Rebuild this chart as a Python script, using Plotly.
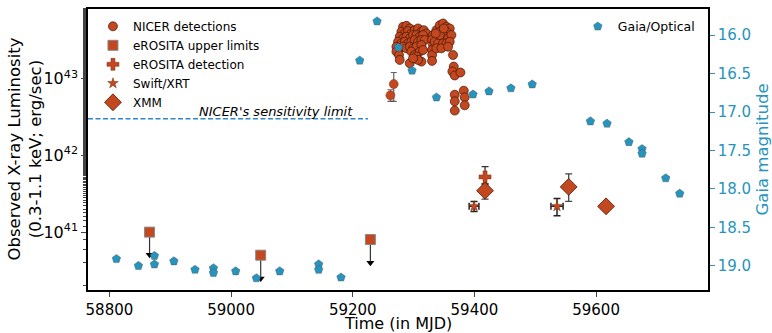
import numpy as np
import plotly.graph_objects as go

# ---------------- data ----------------
# NICER detections: MJD and log10(L [erg/s])
nicer_mjd = [59282.7, 59288.2, 59293.7, 59280.0, 59285.5, 59291.0, 59296.4, 59301.9, 59307.4,
             59312.9, 59316.7, 59321.1, 59277.2, 59282.7, 59288.2, 59293.7, 59299.2, 59304.6,
             59310.1, 59315.6, 59274.5, 59280.0, 59285.5, 59291.0, 59296.4, 59301.9, 59307.4,
             59312.9, 59318.3, 59271.8, 59277.2, 59282.7, 59288.2, 59293.7, 59299.2, 59304.6,
             59312.9, 59271.8, 59276.1, 59296.4, 59301.9, 59310.1, 59315.6, 59277.2, 59293.7,
             59304.6, 59312.9, 59307.4, 59299.2,
             59332.0, 59330.4, 59332.0, 59330.4, 59330.4, 59330.4,
             59337.5, 59343.0, 59348.5, 59354.0, 59359.4, 59343.0, 59348.5, 59354.0, 59340.3,
             59345.7, 59351.2, 59356.7, 59362.2, 59334.8, 59340.3, 59348.5, 59354.0, 59359.4,
             59337.5, 59345.7, 59356.7, 59343.0, 59349.6, 59336.4,
             59364.9, 59366.0, 59363.8, 59367.7, 59377.0,
             59367.7, 59367.7, 59367.7, 59382.5, 59384.1, 59384.1]
nicer_logL = [43.678, 43.690, 43.656, 43.613, 43.591, 43.621, 43.591, 43.634, 43.656,
              43.613, 43.634, 43.591, 43.548, 43.526, 43.548, 43.526, 43.570, 43.570,
              43.548, 43.570, 43.483, 43.462, 43.483, 43.462, 43.483, 43.505, 43.483,
              43.505, 43.505, 43.418, 43.397, 43.418, 43.397, 43.418, 43.397, 43.418,
              43.440, 43.354, 43.310, 43.354, 43.310, 43.354, 43.375, 43.246, 43.203,
              43.289, 43.224, 43.246, 43.267,
              43.570, 43.505, 43.440, 43.375, 43.310, 43.233,
              43.634, 43.699, 43.721, 43.678, 43.656, 43.613, 43.591, 43.613, 43.548,
              43.526, 43.548, 43.526, 43.570, 43.483, 43.462, 43.462, 43.462, 43.483,
              43.397, 43.397, 43.418, 43.570, 43.656, 43.591,
              43.310, 43.159, 43.095, 43.043, 43.082,
              42.792, 42.706, 42.585, 42.844, 42.758, 42.654]
nicer_err_dex = 0.03
# early NICER points with larger error bars
nicer_early_mjd = [59267.4, 59261.9]
nicer_early_logL = [42.931, 42.784]
nicer_early_hi = [43.082, 42.857]
nicer_early_lo = [42.706, 42.706]

# eROSITA upper limits
ero_ul_mjd = [58866.0, 59048.7, 59229.0]
ero_ul_L = [1.0e41, 5.0e40, 8.0e40]
ero_ul_tip = [4.7e40, 2.3e40, 3.7e40]

# eROSITA detection
ero_det_mjd = [59417.5]
ero_det_L = [5.25e41]
ero_det_hi = [7.16e41]
ero_det_lo = [4.24e41]

# Swift/XRT
swift_mjd = [59399.4, 59535.8]
swift_L = [2.17e41, 2.17e41]
swift_hi = [2.51e41, 2.75e41]
swift_lo = [1.86e41, 1.64e41]
swift_xerr = [8.0, 10.0]

# XMM
xmm_mjd = [59417.5, 59555.0, 59616.4]
xmm_L = [3.47e41, 3.89e41, 2.17e41]
xmm_hi = [4.24e41, 5.75e41, 2.17e41]
xmm_lo = [2.69e41, 2.51e41, 2.17e41]

# Gaia / optical
gaia_mjd = [58811.5, 58847.7, 58874.0, 58874.0, 58906.0, 58940.7, 58971.0, 58971.0, 59007.6,
            59041.6, 59080.0, 59144.0, 59144.0, 59180.7, 59211.5, 59240.0, 59275.0, 59297.5,
            59337.6, 59397.7, 59424.0, 59460.0, 59495.0, 59590.7, 59618.0, 59654.0, 59675.6,
            59675.6, 59714.5, 59737.5]
gaia_mag = [18.91, 19.00, 18.87, 18.98, 18.94, 19.05, 19.03, 19.09, 19.07,
            19.16, 19.07, 18.98, 19.05, 19.15, 16.33, 15.82, 16.16, 16.46,
            16.81, 16.77, 16.73, 16.69, 16.64, 17.12, 17.15, 17.39, 17.48,
            17.54, 17.86, 18.06]

sens_limit = 3.0e42
sens_end_mjd = 59225.0

x_ticks = [58800, 59000, 59200, 59400, 59600]
y_ticks = [1e41, 1e42, 1e43]
y_ticktext = ["10<sup>41</sup>", "10<sup>42</sup>", "10<sup>43</sup>"]
mag_ticks = [16.0, 16.5, 17.0, 17.5, 18.0, 18.5, 19.0]

# ---------------- style ----------------
RED = "#c4481f"
BLUE = "#2694bd"
FONT = "DejaVu Sans"
X_RANGE = [58764.8, 59784.0]

fig = go.Figure()

nL = 10 ** np.array(nicer_logL)
fig.add_trace(go.Scatter(
    x=nicer_mjd, y=nL, mode="markers", name="NICER detections",
    marker=dict(symbol="circle", size=9, color=RED, line=dict(color="rgba(60,20,5,0.85)", width=0.8)),
    error_y=dict(type="data", symmetric=False,
                 array=nL * (10 ** nicer_err_dex - 1), arrayminus=nL * (1 - 10 ** -nicer_err_dex),
                 color="rgba(60,60,60,0.8)", thickness=1.2, width=3),
))
eL = 10 ** np.array(nicer_early_logL)
fig.add_trace(go.Scatter(
    x=nicer_early_mjd, y=eL, mode="markers", showlegend=False,
    marker=dict(symbol="circle", size=9, color=RED, line=dict(color="rgba(120,40,10,0.8)", width=0.6)),
    error_y=dict(type="data", symmetric=False,
                 array=10 ** np.array(nicer_early_hi) - eL, arrayminus=eL - 10 ** np.array(nicer_early_lo),
                 color="rgba(60,60,60,0.8)", thickness=1.2, width=3),
))

# upper-limit arrows
for xm, yv, yt in zip(ero_ul_mjd, ero_ul_L, ero_ul_tip):
    fig.add_trace(go.Scatter(x=[xm, xm], y=[yv, yt * 1.06], mode="lines", showlegend=False,
                             line=dict(color="#333333", width=1.2), hoverinfo="skip"))
fig.add_trace(go.Scatter(x=ero_ul_mjd, y=[t * 1.08 for t in ero_ul_tip], mode="markers", showlegend=False,
                         marker=dict(symbol="triangle-down", size=7, color="black"), hoverinfo="skip"))
fig.add_trace(go.Scatter(
    x=ero_ul_mjd, y=ero_ul_L, mode="markers", name="eROSITA upper limits",
    marker=dict(symbol="square", size=10, color=RED, line=dict(color="#888888", width=1)),
))

fig.add_trace(go.Scatter(
    x=ero_det_mjd, y=ero_det_L, mode="markers", name="eROSITA detection",
    marker=dict(symbol="cross", size=10, color=RED, line=dict(color="#7a2a10", width=0.5)),
    error_y=dict(type="data", symmetric=False,
                 array=np.array(ero_det_hi) - np.array(ero_det_L),
                 arrayminus=np.array(ero_det_L) - np.array(ero_det_lo),
                 color="#333333", thickness=1.3, width=3.5),
))

fig.add_trace(go.Scatter(
    x=swift_mjd, y=swift_L, mode="markers", name="Swift/XRT",
    marker=dict(symbol="star", size=8, color=RED, line=dict(color="#7a2a10", width=0.5)),
    error_y=dict(type="data", symmetric=False,
                 array=np.array(swift_hi) - np.array(swift_L),
                 arrayminus=np.array(swift_L) - np.array(swift_lo),
                 color="#222222", thickness=1.5, width=3.5),
    error_x=dict(type="data", array=swift_xerr, color="#222222", thickness=1.5, width=3.5),
))

fig.add_trace(go.Scatter(
    x=xmm_mjd, y=xmm_L, mode="markers", name="XMM",
    marker=dict(symbol="diamond", size=13, color=RED, line=dict(color="#4a1a08", width=0.8)),
    error_y=dict(type="data", symmetric=False,
                 array=np.array(xmm_hi) - np.array(xmm_L),
                 arrayminus=np.array(xmm_L) - np.array(xmm_lo),
                 color="#444444", thickness=1.3, width=3.5),
))

# sensitivity limit line
fig.add_trace(go.Scatter(
    x=[X_RANGE[0], sens_end_mjd], y=[sens_limit, sens_limit], mode="lines", showlegend=False,
    line=dict(color="#2f86c8", width=1.5, dash="5px,2.5px"), hoverinfo="skip",
))

# Gaia
fig.add_trace(go.Scatter(
    x=gaia_mjd, y=gaia_mag, mode="markers", name="Gaia/Optical", yaxis="y2", legend="legend2",
    marker=dict(symbol="pentagon", size=9, color=BLUE, line=dict(color="rgba(70,70,70,0.6)", width=0.6)),
))

tickfont = dict(family=FONT, size=15, color="black")
fig.update_layout(
    width=772, height=333,
    margin=dict(l=88, r=64, t=7, b=43),
    paper_bgcolor="white", plot_bgcolor="white",
    font=dict(family=FONT, size=13, color="black"),
    xaxis=dict(range=X_RANGE, tickvals=x_ticks, tickformat="d", ticks="outside", ticklen=5, tickwidth=1.2,
               showline=True, linecolor="black", linewidth=1.5, mirror=True, showgrid=False,
               zeroline=False, tickfont=tickfont),
    yaxis=dict(type="log", range=[40.245, 43.91], tickvals=y_ticks, ticktext=y_ticktext,
               ticks="outside", ticklen=5, tickwidth=1.2, showline=True, linecolor="black",
               linewidth=1.5, showgrid=False, zeroline=False, tickfont=dict(family=FONT, size=16, color="black"),
               minor=dict(ticks="outside", ticklen=3, tickwidth=1, showgrid=False)),
    yaxis2=dict(overlaying="y", side="right", range=[19.314, 15.66], tickvals=mag_ticks,
                tickformat=".1f", ticks="outside", ticklen=5, tickwidth=1.2, tickcolor=BLUE,
                showline=True, linecolor="black", linewidth=1.5, showgrid=False, zeroline=False,
                tickfont=dict(family=FONT, size=15, color=BLUE)),
    legend=dict(x=0.008, y=0.99, xanchor="left", yanchor="top", bgcolor="rgba(0,0,0,0)",
                font=dict(family=FONT, size=12), tracegroupgap=0),
    legend2=dict(x=0.79, y=0.99, xanchor="left", yanchor="top", bgcolor="rgba(0,0,0,0)",
                 font=dict(family=FONT, size=12.5)),
    showlegend=True,
    annotations=[
        dict(text="Observed X-ray Luminosity<br>(0.3-1.1 keV; erg/sec)", xref="paper", yref="paper",
             x=0, y=0.5, xshift=-64, textangle=-90, showarrow=False, xanchor="center", yanchor="middle",
             font=dict(family=FONT, size=16.5, color="black")),
        dict(text="Gaia magnitude", xref="paper", yref="paper", x=1, y=0.5, xshift=54, textangle=-90,
             showarrow=False, xanchor="center", yanchor="middle",
             font=dict(family=FONT, size=16.5, color=BLUE)),
        dict(text="Time (in MJD)", xref="paper", yref="paper", x=0.5, y=0, yshift=-33,
             showarrow=False, xanchor="center", yanchor="middle",
             font=dict(family=FONT, size=16, color="black")),
        dict(text="<i>NICER's sensitivity limit</i>", xref="x", yref="paper", x=sens_end_mjd - 22,
             y=(43 - (110 - 77.3) / 77.2 - 40.245) / (43.91 - 40.245), showarrow=False,
             xanchor="right", yanchor="middle", font=dict(family=FONT, size=13, color="black")),
    ],
)

fig.write_html("out.html")
